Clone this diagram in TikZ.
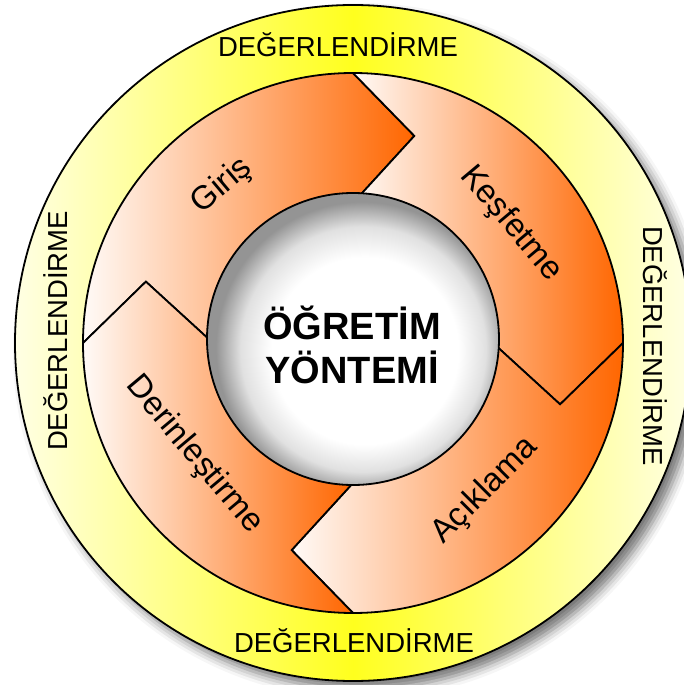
\documentclass[tikz,border=0pt]{standalone}
\usepackage{fontspec}
\setmainfont{Liberation Sans}
\usepackage{xcolor}
\usetikzlibrary{shadows.blur}
\definecolor{segorange}{RGB}{255,102,0}
\definecolor{ringyellow}{RGB}{255,255,30}
\definecolor{ringpale}{RGB}{255,255,228}
\pgfdeclareradialshading{innerball}{\pgfpoint{3bp}{-3bp}}{color(0bp)=(white); color(16bp)=(white); color(21bp)=(black!12); color(25bp)=(black!42); color(50bp)=(black!42)}

\begin{document}
\begin{tikzpicture}[x=1pt, y=1pt, line width=1.8pt,
    seg/.style={draw=black, left color=segorange!3, right color=segorange},
    lbl/.style={font=\fontsize{33}{33}\selectfont},
    evalt/.style={font=\fontsize{27.5}{28}\selectfont, anchor=base},
    title/.style={font=\bfseries\fontsize{38}{43}\selectfont, anchor=base}]
    \useasboundingbox (-353,-342) rectangle (331,343);

    % outer ring
    \shade[draw=black, left color=ringpale, right color=ringpale, middle color=ringyellow,
        blur shadow={shadow xshift=8pt, shadow yshift=-8pt, shadow blur radius=10pt, shadow opacity=55}]
        (0,0) circle[radius=338];

    % the four arrow segments
    \foreach \t in {180, 90, 0, -90}
        \shade[seg] (\t:270) arc[start angle=\t, end angle=\t-90, radius=270]
            -- ({\t-106.5}:216) -- ({\t-90}:140) arc[start angle=\t-90, end angle=\t, radius=140]
            -- ({\t-16.5}:216) -- cycle;

    % centre
    \shade[draw=black, shading=innerball] (0,4) circle[radius=146];

    \node[title] (ogretim) at (-1,3) {ÖĞRETİM};
    \node[title] (yontemi) at (-1,-40) {YÖNTEMİ};

    \node[lbl, rotate=40] (giris) at (-131,157) {Giriş};
    \node[lbl, rotate=-50] (kesfetme) at (158,119) {Keşfetme};
    \node[lbl, rotate=45] (aciklama) at (132,-148) {Açıklama};
    \node[lbl, rotate=-50] (derinlestirme) at (-159,-112) {Derinleştirme};

    \node[evalt] (deg-top) at (-15,286) {DEĞERLENDİRME};
    \node[evalt] (deg-bottom) at (1,-309) {DEĞERLENDİRME};
    \node[evalt, rotate=90] (deg-left) at (-285,12) {DEĞERLENDİRME};
    \node[evalt, rotate=-90] (deg-right) at (290,-3) {DEĞERLENDİRME};
\end{tikzpicture}
\end{document}
